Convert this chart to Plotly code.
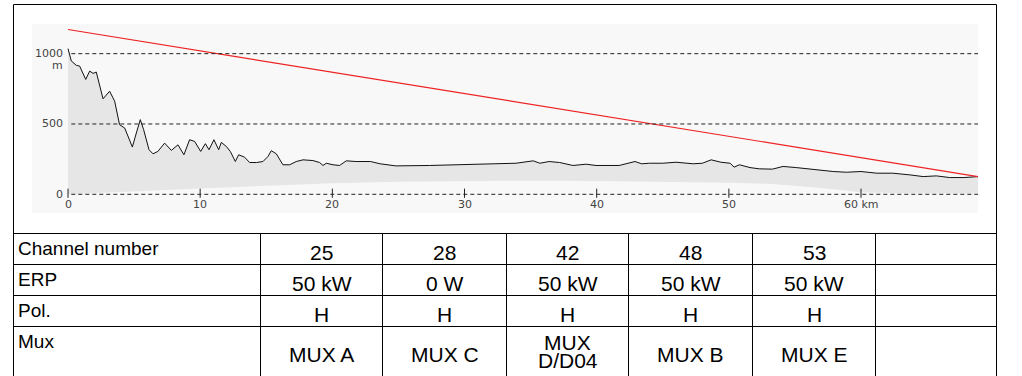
import plotly.graph_objects as go

# ---------------- data ----------------
dist_km = [0.0, 0.25, 0.63, 0.88, 1.34, 1.64, 1.9, 2.14, 2.65, 3.15, 3.53, 3.9, 4.29, 4.87, 5.17,
           5.47, 5.72, 6.13, 6.43, 6.8, 7.31, 7.82, 8.32, 8.77, 9.2, 9.58, 10.04, 10.39, 10.67,
           11.04, 11.4, 11.6, 11.98, 12.28, 12.66, 12.91, 13.36, 13.74, 14.25, 14.75, 15.13,
           15.38, 15.76, 16.26, 16.77, 17.27, 17.78, 18.53, 19.04, 19.29, 19.54, 20.05, 20.55,
           21.05, 21.8, 22.9, 23.6, 24.8, 27.35, 30.4, 32.4, 33.9, 35.2, 35.7, 36.4, 37.2, 38.2,
           39.2, 39.95, 41.7, 42.9, 43.4, 44.0, 45.0, 46.0, 47.3, 48.0, 48.66, 49.4, 50.1, 50.4,
           50.8, 51.6, 52.3, 53.3, 54.1, 55.1, 56.1, 57.1, 57.9, 58.9, 60.0, 61.2, 62.4, 63.7,
           64.7, 65.7, 66.7, 67.8, 68.85]
elev_m = [1036, 948, 917, 912, 817, 876, 860, 869, 679, 733, 662, 495, 471, 336, 436,
          531, 460, 317, 288, 305, 364, 312, 352, 281, 388, 376, 305, 360, 317,
          388, 317, 369, 340, 305, 233, 281, 264, 226, 226, 233, 269,
          310, 288, 210, 210, 233, 245, 240, 226, 205, 221, 210, 205,
          238, 233, 233, 217, 202, 205, 214, 217, 221, 238, 221, 233, 226, 205,
          214, 205, 205, 233, 217, 221, 221, 228, 217, 221, 245, 228, 221, 193,
          210, 190, 181, 179, 198, 190, 181, 167, 162, 157, 162, 150, 150, 138,
          126, 131, 119, 119, 126]

bulge_km = [0, 5, 10, 15, 20, 25, 30, 35, 40, 45, 50, 53, 55, 57, 59, 60, 64, 68.85]
bulge_m = [0, 22, 42, 60, 78, 90, 95, 97, 95, 90, 82, 75, 62, 45, 25, 12, 8, 6]

los_km = [0, 68.85]
los_m = [1172, 126]

y_ticks = [0, 500, 1000]
x_ticks = [0, 10, 20, 30, 40, 50, 60]
x_tick_text = ["0", "10", "20", "30", "40", "50", "60 km"]

row_labels = ["Channel number", "ERP", "Pol.", "Mux"]
channels = ["25", "28", "42", "48", "53"]
erp = ["50 kW", "0 W", "50 kW", "50 kW", "50 kW"]
pol = ["H", "H", "H", "H", "H"]
mux = [["MUX A"], ["MUX C"], ["MUX", "D/D04"], ["MUX B"], ["MUX E"]]

# ---------------- layout helpers ----------------
W, H = 1022, 376


def px(x):
    return x / W


def py(y):
    return 1 - y / H


fig = go.Figure()

# earth bulge (lower boundary of the fill)
fig.add_trace(go.Scatter(x=bulge_km, y=bulge_m, mode="lines",
                         line=dict(width=0, color="#e6e6e6"), hoverinfo="skip",
                         showlegend=False))
# terrain profile
fig.add_trace(go.Scatter(x=dist_km, y=elev_m, mode="lines",
                         line=dict(width=1, color="#111111"), fill="tonexty",
                         fillcolor="#e6e6e6", showlegend=False))
# line of sight
fig.add_trace(go.Scatter(x=los_km, y=los_m, mode="lines",
                         line=dict(width=1.2, color="#ee2222"), showlegend=False))

shapes = []
annotations = []
axis_font = dict(family="DejaVu Sans", size=11, color="#444444")

# dashed gridlines
for v in y_ticks:
    shapes.append(dict(type="line", xref="x", yref="y", x0=0.25, x1=68.85, y0=v, y1=v,
                       line=dict(color="#222222", width=1, dash="4px,3px"), layer="above"))
    annotations.append(dict(x=0, y=v, xref="x", yref="y", text=str(v), showarrow=False,
                            xanchor="right", yanchor="middle", xshift=-3,
                            font=axis_font))
annotations.append(dict(x=0, y=915, xref="x", yref="y", text="m", showarrow=False,
                        xanchor="right", yanchor="middle", xshift=-3,
                        font=axis_font))

# x ticks
for v, t in zip(x_ticks, x_tick_text):
    shapes.append(dict(type="line", xref="x", yref="y", x0=v, x1=v, y0=-25, y1=40,
                       line=dict(color="#222222", width=1), layer="above"))
    annotations.append(dict(x=v, y=0, xref="x", yref="y", text=t, showarrow=False,
                            xanchor="center", yanchor="top", yshift=-2,
                            font=axis_font))

# outer frame of the chart
black = dict(color="black", width=1)
shapes.append(dict(type="line", xref="paper", yref="paper", x0=px(13.5), x1=px(996.5),
                   y0=py(4.5), y1=py(4.5), line=black))
shapes.append(dict(type="line", xref="paper", yref="paper", x0=px(13.5), x1=px(13.5),
                   y0=py(4.5), y1=py(376), line=black))
shapes.append(dict(type="line", xref="paper", yref="paper", x0=px(996.5), x1=px(996.5),
                   y0=py(4.5), y1=py(376), line=black))

# table grid
col_edges = [13.5, 260.5, 382.5, 506.5, 628.5, 752.5, 875.5, 996.5]
row_edges = [233.5, 264.5, 295.5, 326.5, 376]
for ry in row_edges[:-1]:
    shapes.append(dict(type="line", xref="paper", yref="paper", x0=px(col_edges[0]),
                       x1=px(col_edges[-1]), y0=py(ry), y1=py(ry), line=black))
for cx in col_edges[1:-1]:
    shapes.append(dict(type="line", xref="paper", yref="paper", x0=px(cx), x1=px(cx),
                       y0=py(row_edges[0]), y1=py(376), line=black))

label_font = dict(family="Liberation Sans", size=19, color="black")
value_font = dict(family="Liberation Sans", size=21, color="black")

for i, lab in enumerate(row_labels):
    annotations.append(dict(x=px(16), y=py(row_edges[i] + 15), xref="paper", yref="paper",
                            text=lab, showarrow=False, xanchor="left", yanchor="middle",
                            font=label_font))

centers = [(col_edges[j + 1] + col_edges[j + 2]) / 2 for j in range(5)]
for row_i, vals in enumerate([channels, erp, pol]):
    yc = (row_edges[row_i] + row_edges[row_i + 1]) / 2 + 3
    for cx, v in zip(centers, vals):
        annotations.append(dict(x=px(cx), y=py(yc), xref="paper", yref="paper", text=v,
                                showarrow=False, xanchor="center", yanchor="middle",
                                font=value_font))
for cx, lines in zip(centers, mux):
    if len(lines) == 1:
        ys = [354]
    else:
        ys = [342, 360]
    for yy, t in zip(ys, lines):
        annotations.append(dict(x=px(cx), y=py(yy), xref="paper", yref="paper", text=t,
                                showarrow=False, xanchor="center", yanchor="middle",
                                font=value_font))

fig.update_layout(
    width=W, height=H, margin=dict(l=0, r=0, t=0, b=0),
    paper_bgcolor="white", plot_bgcolor="#f8f8f8",
    xaxis=dict(domain=[px(32), px(978)], range=[-2.724, 68.85], showgrid=False,
               zeroline=False, showticklabels=False, ticks="", fixedrange=True),
    yaxis=dict(domain=[py(213), py(24)], range=[-133, 1211], showgrid=False,
               zeroline=False, showticklabels=False, ticks="", fixedrange=True),
    shapes=shapes, annotations=annotations, showlegend=False,
)

fig.write_html("out.html", config={"displayModeBar": False},
               post_script="document.body.style.margin='0';document.body.style.overflow='hidden';")
